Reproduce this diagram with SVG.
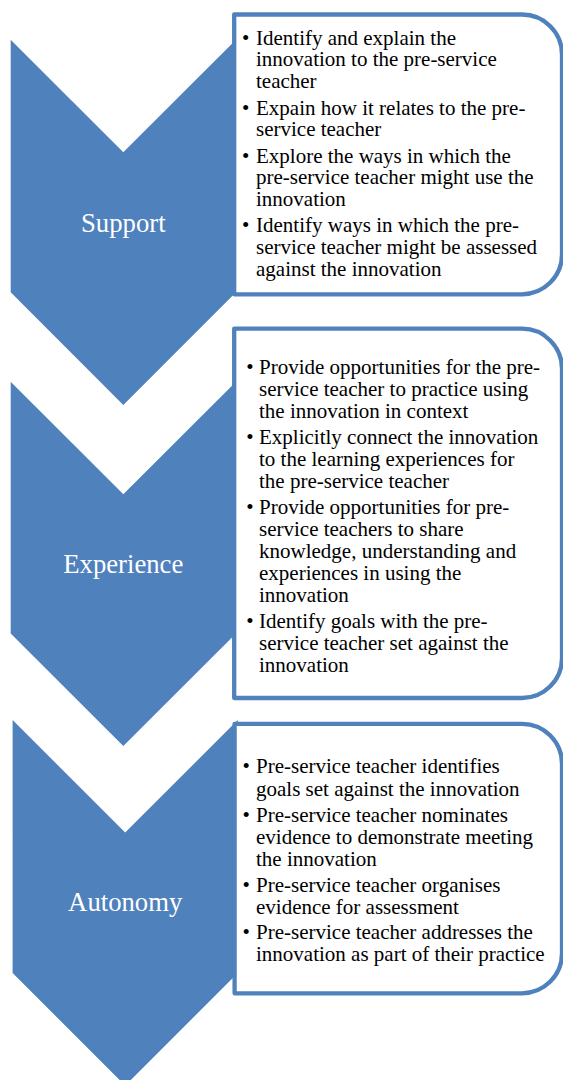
<svg xmlns="http://www.w3.org/2000/svg" width="563" height="1080" viewBox="0 0 563 1080">
<defs>
<style>
.chev{fill:#4F81BD;stroke:none}
.box{fill:#FFFFFF;stroke:#4F81BD;stroke-width:4.3;stroke-linejoin:round}
.lbl{font-size:26.7px;fill:#FFFFFF;text-anchor:middle}
.t{font-size:21px;fill:#000000}
</style>
</defs>
<rect x="0" y="0" width="563" height="1080" fill="#FFFFFF"/>
<g id="connectors"/>
<g font-family="Liberation Serif, DejaVu Serif, serif">
<g id="support">
<path class="chev" d="M10.7,39.7 L123.3,152.3 L236,39.7 L236,292.3 L123.3,404.9 L10.7,292.3 Z"/>
<text class="lbl" x="123.3" y="232">Support</text>
</g>
<g id="experience">
<path class="chev" d="M10.7,381.7 L123.3,494.3 L236,381.7 L236,633.5 L123.3,746.1 L10.7,633.5 Z"/>
<text class="lbl" x="123.3" y="573.3">Experience</text>
</g>
<g id="autonomy">
<path class="chev" d="M12.6,720 L125.2,832.6 L237.8,720 L237.8,973 L125.2,1085.6 L12.6,973 Z"/>
<text class="lbl" x="125.2" y="911">Autonomy</text>
</g>
<g id="support-details">
<path class="box" d="M234.2,14.5 H522 A40,40 0 0 1 562,54.5 V254.3 A40,40 0 0 1 522,294.3 H234.2 Z"/>
<text class="t" x="242" y="44.5">•</text>
<text class="t" x="256" y="44.5">Identify and explain the</text>
<text class="t" x="256" y="66.3">innovation to the pre-service</text>
<text class="t" x="256" y="88.1">teacher</text>
<text class="t" x="242" y="114.5">•</text>
<text class="t" x="256" y="114.5">Expain how it relates to the pre-</text>
<text class="t" x="256" y="136.3">service teacher</text>
<text class="t" x="242" y="162.5">•</text>
<text class="t" x="256" y="162.5">Explore the ways in which the</text>
<text class="t" x="256" y="184.3">pre-service teacher might use the</text>
<text class="t" x="256" y="206.1">innovation</text>
<text class="t" x="242" y="232.3">•</text>
<text class="t" x="256" y="232.3">Identify ways in which the pre-</text>
<text class="t" x="256" y="254.1">service teacher might be assessed</text>
<text class="t" x="256" y="275.9">against the innovation</text>
</g>
<g id="experience-details">
<path class="box" d="M234.2,328.7 H522 A40,40 0 0 1 562,368.7 V658 A40,40 0 0 1 522,698 H234.2 Z"/>
<text class="t" x="246.3" y="374">•</text>
<text class="t" x="259" y="374">Provide opportunities for the pre-</text>
<text class="t" x="259" y="396.3">service teacher to practice using</text>
<text class="t" x="259" y="418.3">the innovation in context</text>
<text class="t" x="246.3" y="444">•</text>
<text class="t" x="259" y="444">Explicitly connect the innovation</text>
<text class="t" x="259" y="466">to the learning experiences for</text>
<text class="t" x="259" y="488.1">the pre-service teacher</text>
<text class="t" x="246.3" y="514">•</text>
<text class="t" x="259" y="514">Provide opportunities for pre-</text>
<text class="t" x="259" y="536.2">service teachers to share</text>
<text class="t" x="259" y="558.2">knowledge, understanding and</text>
<text class="t" x="259" y="580.1">experiences in using the</text>
<text class="t" x="259" y="602.1">innovation</text>
<text class="t" x="246.3" y="628.3">•</text>
<text class="t" x="259" y="628.3">Identify goals with the pre-</text>
<text class="t" x="259" y="650.2">service teacher set against the</text>
<text class="t" x="259" y="672.1">innovation</text>
</g>
<g id="autonomy-details">
<path class="box" d="M234.6,723.8 H522 A40,40 0 0 1 562,763.8 V953.3 A40,40 0 0 1 522,993.3 H234.6 Z"/>
<text class="t" x="242.6" y="773.3">•</text>
<text class="t" x="256" y="773.3">Pre-service teacher identifies</text>
<text class="t" x="256" y="795.5">goals set against the innovation</text>
<text class="t" x="242.6" y="821.7">•</text>
<text class="t" x="256" y="821.7">Pre-service teacher nominates</text>
<text class="t" x="256" y="843.7">evidence to demonstrate meeting</text>
<text class="t" x="256" y="865.7">the innovation</text>
<text class="t" x="242.6" y="891.7">•</text>
<text class="t" x="256" y="891.7">Pre-service teacher organises</text>
<text class="t" x="256" y="913.7">evidence for assessment</text>
<text class="t" x="242.6" y="939">•</text>
<text class="t" x="256" y="939">Pre-service teacher addresses the</text>
<text class="t" x="256" y="960.9">innovation as part of their practice</text>
</g>
</g>
</svg>
